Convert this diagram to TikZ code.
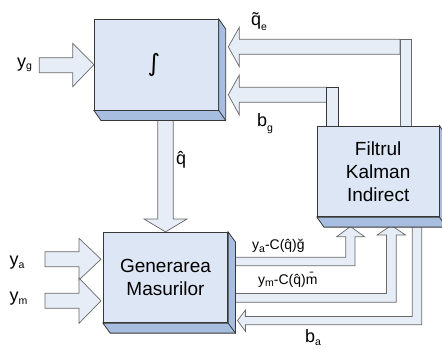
\documentclass[tikz,border=0pt]{standalone}
\usepackage{fontspec}
\setmainfont{Liberation Sans}
\newfontfamily\djv{DejaVu Sans}
\usetikzlibrary{calc}
\pgfdeclarelayer{bg}
\pgfsetlayers{bg,main}
\definecolor{boxfill}{RGB}{221,230,244}
\definecolor{boxside}{RGB}{168,190,224}
\definecolor{arrfill}{RGB}{230,237,247}
\definecolor{arrline}{RGB}{105,105,105}
\definecolor{boxline}{RGB}{55,55,55}
\newcommand\subs[2][-3pt]{\raisebox{#1}{\fontsize{10.5}{10.5}\selectfont #2}}
\begin{document}
\begin{tikzpicture}[x=1pt,y=-1pt,
 box/.style={draw=boxline, fill=boxfill, line width=0.8pt, inner sep=0pt, align=center, font=\fontsize{19}{23}\selectfont},
 side/.style={draw=boxline, fill=boxside, line width=0.8pt, line join=miter},
 fat/.style={draw=arrline, fill=arrfill, line width=0.7pt},
 lab/.style={inner sep=0pt, font=\fontsize{18}{18}\selectfont},
 slab/.style={inner sep=0pt, font=\fontsize{14}{14}\selectfont}]
\useasboundingbox (0,0) rectangle (442,349);

% boxes
\node[box, minimum width=124pt, minimum height=90.7pt] (int) at (156.3,64.65) {\raisebox{2pt}{\djv\fontsize{24}{24}\selectfont ∫}\hspace{5pt}};
\draw[side] (int.north east) -- ++(7,10) -- ($(int.south east)+(7,10)$) -- ($(int.south west)+(7,10)$) -- (int.south west) -- (int.south east) -- cycle;
\draw[boxline, line width=0.8pt] (int.south east) -- ++(7,10);

\node[box, minimum width=124.4pt, minimum height=90.4pt] (gen) at (165.5,277.5) {Generarea\\Masurilor};
\draw[side] (gen.north east) -- ++(7.3,10) -- ($(gen.south east)+(7.3,10)$) -- ($(gen.south west)+(7.3,10)$) -- (gen.south west) -- (gen.south east) -- cycle;
\draw[boxline, line width=0.8pt] (gen.south east) -- ++(7.3,10);

\node[box, minimum width=121.7pt, minimum height=90.7pt] (kal) at (378.15,171.35) {Filtrul\\Kalman\\Indirect};
\draw[side] (kal.north east) -- ++(7,10) -- ($(kal.south east)+(7,10)$) -- ($(kal.south west)+(7,10)$) -- (kal.south west) -- (kal.south east) -- cycle;
\draw[boxline, line width=0.8pt] (kal.south east) -- ++(7,10);

\begin{pgfonlayer}{bg}
% y_g input
\draw[fat] (39.3,57.7) -- (72.7,57.7) -- (72.7,43.3) -- (int.west) -- (72.7,86.7) -- (72.7,72.7) -- (39.3,72.7) -- cycle;
% q hat
\draw[fat] (157.8,115) -- (173.2,115) -- (173.2,219) -- (187,219) -- (gen.north) -- (144,219) -- (157.8,219) -- cycle;
% y_a, y_m inputs
\draw[fat] (45,251.7) -- (79,251.7) -- (79,238.3) -- (101,259.2) -- (79,280) -- (79,266.7) -- (45,266.7) -- cycle;
\draw[fat] (45,293.3) -- (79,293.3) -- (79,278) -- (101,300.8) -- (79,323.3) -- (79,308.3) -- (45,308.3) -- cycle;
% q tilde e feedback
\draw[fat] (400,39.3) -- (239.3,39.3) -- (239.3,27.3) -- (228.3,46.8) -- (239.3,66.7) -- (239.3,54.3) -- (400,54.3) -- cycle;
\draw[fat] (400,39.3) rectangle (411.7,127);
% b_g feedback
\draw[fat] (326.7,87.3) -- (239.3,87.3) -- (239.3,75) -- (228.3,94.8) -- (239.3,115) -- (239.3,102.3) -- (326.7,102.3) -- cycle;
\draw[fat, draw=boxline] (326.7,87.3) rectangle (338.3,127);
% outputs of Generarea
\draw[fat] (232,257.3) -- (345.7,257.3) -- (345.7,236.7) -- (336.7,236.7) -- (350.5,226.5) -- (364.5,236.7) -- (355,236.7) -- (355,265.7) -- (232,265.7) -- cycle;
\draw[fat] (232,293.5) -- (386.5,293.5) -- (386.5,235) -- (377,235) -- (391.3,225.5) -- (405.5,235) -- (396.2,235) -- (396.2,302.3) -- (232,302.3) -- cycle;
% b_a feedback
\draw[fat] (412.3,220) -- (412.3,316.5) -- (245.5,316.5) -- (245.5,310) -- (237.5,320.5) -- (245.5,331.5) -- (245.5,324.7) -- (421.7,324.7) -- (421.7,220) -- cycle;
\end{pgfonlayer}

% labels
\node[lab, anchor=base west] (lyg) at (17,67) {y\subs[-2pt]{g}};
\node[lab, anchor=base west] (lya) at (9.5,265) {y\subs{a}};
\node[lab, anchor=base west] (lym) at (9.5,301.7) {y\subs{m}};
\node[lab, anchor=base west] (lq) at (176,164) {\^{q}};
\node[lab, anchor=base west] (lqe) at (251,25) {\~{q}\subs[-5pt]{e}};
\node[lab, anchor=base west] (lbg) at (257,126) {b\subs[-5pt]{g}};
\node[lab, anchor=base west] (lba) at (305,342) {b\subs[-3pt]{a}};
\node[slab, anchor=base west] (lo1) at (252,249) {y\subs{a}-C(\^{q})\u{g}};
\node[slab, anchor=base west] (lo2) at (258,284) {y\subs[-2pt]{m}-C(\^{q})\={m}};
\end{tikzpicture}
\end{document}
